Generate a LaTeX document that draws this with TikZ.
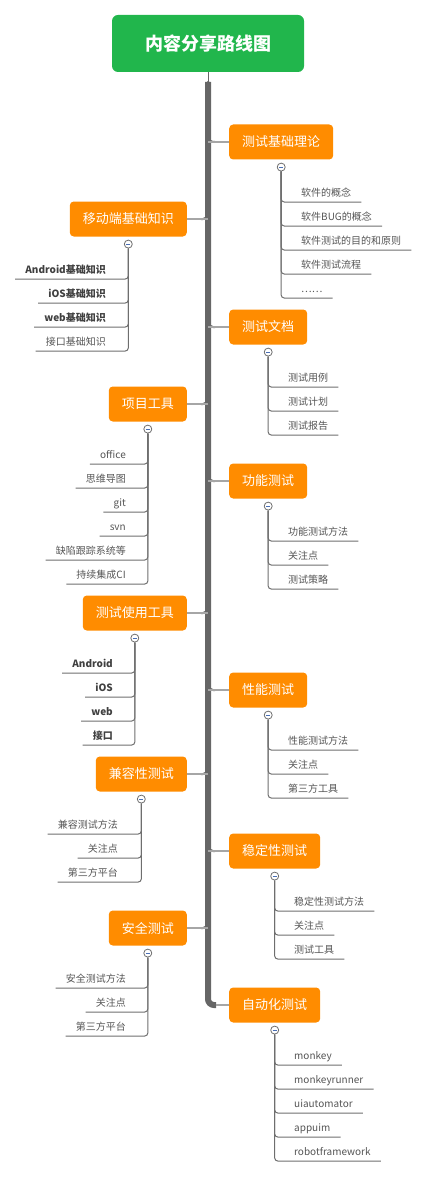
\documentclass[tikz,border=0pt]{standalone}
\usepackage{fontspec}
\setmainfont{Noto Sans CJK SC}
\usepackage{tikz}
\usetikzlibrary{positioning}
\definecolor{rootgreen}{HTML}{21B64C}
\definecolor{topicorange}{HTML}{FF8C00}
\definecolor{trunkgray}{HTML}{666666}
\definecolor{branchgray}{HTML}{A6A6A6}
\definecolor{linegray}{HTML}{6E6E6E}
\definecolor{itemtext}{HTML}{555555}
\definecolor{boldtext}{HTML}{404040}
\definecolor{foldblue}{HTML}{4A6FB5}

\begin{document}
\begin{tikzpicture}[
  x=1pt,y=-1pt,
  root/.style={fill=rootgreen,text=white,rounded corners=6pt,minimum width=192pt,minimum height=57pt,font=\fontsize{18}{20}\selectfont\bfseries},
  topic/.style={fill=topicorange,text=white,rounded corners=4pt,minimum height=35pt,inner xsep=13pt,font=\fontsize{13}{15}\selectfont},
  fold/.style={circle,draw=linegray,fill=white,line width=0.8pt,minimum size=8pt,inner sep=0pt,
    path picture={\draw[foldblue,line width=0.8pt] ([xshift=-2pt]path picture bounding box.center) -- ([xshift=2pt]path picture bounding box.center);}},
  ritem/.style={anchor=south west,inner xsep=10pt,inner ysep=3pt,text height=8pt,text depth=2pt,text=itemtext,font=\fontsize{10}{12}\selectfont},
  litem/.style={ritem,anchor=south east},
  bitem/.style={text=boldtext,font=\fontsize{10}{12}\selectfont\bfseries},
  trunk/.style={draw=trunkgray,line width=6pt},
  fillet/.style={draw=trunkgray,line width=2pt,rounded corners=5pt},
  branch/.style={draw=branchgray,line width=1.5pt},
  stem/.style={draw=trunkgray,line width=1pt},
  sub/.style={draw=linegray,line width=1pt,rounded corners=3pt}
]
\useasboundingbox (0,0) rectangle (429,1177);
\node[root] (root) at (208,43.5) {内容分享路线图};
\coordinate (top) at (208,82);

% right side topics
\node[topic,anchor=west] (t1) at (229,142) {测试基础理论};
\node[topic,anchor=west] (t2) at (229,327) {测试文档};
\node[topic,anchor=west] (t3) at (229,481) {功能测试};
\node[topic,anchor=west] (t4) at (229,690) {性能测试};
\node[topic,anchor=west] (t5) at (229,851) {稳定性测试};
\node[topic,anchor=west] (t6) at (229,1005) {自动化测试};
% left side topics
\node[topic,anchor=east] (l1) at (187,219) {移动端基础知识};
\node[topic,anchor=east] (l2) at (187,404) {项目工具};
\node[topic,anchor=east] (l3) at (187,613) {测试使用工具};
\node[topic,anchor=east] (l4) at (187,774) {兼容性测试};
\node[topic,anchor=east] (l5) at (187,928) {安全测试};

% trunk
\draw[stem] (root) -- (top);
\draw[trunk,rounded corners=6pt] (top) |- ([xshift=-13pt]t6.west);
\draw[fillet] (top) |- ([xshift=-14pt]t1.west); \draw[fillet] (top) |- ([xshift=-14pt]t2.west);
\draw[fillet] (top) |- ([xshift=-14pt]t3.west); \draw[fillet] (top) |- ([xshift=-14pt]t4.west);
\draw[fillet] (top) |- ([xshift=-14pt]t5.west);
\draw[fillet] (top) |- ([xshift=14pt]l1.east); \draw[fillet] (top) |- ([xshift=14pt]l2.east);
\draw[fillet] (top) |- ([xshift=14pt]l3.east); \draw[fillet] (top) |- ([xshift=14pt]l4.east);
\draw[fillet] (top) |- ([xshift=14pt]l5.east);
\draw[branch] (top |- t1.west) -- (t1.west); \draw[branch] (top |- t2.west) -- (t2.west);
\draw[branch] (top |- t3.west) -- (t3.west); \draw[branch] (top |- t4.west) -- (t4.west);
\draw[branch] (top |- t5.west) -- (t5.west); \draw[branch] ([xshift=-13pt]t6.west) -- (t6.west);
\draw[branch] (top |- l1.east) -- (l1.east); \draw[branch] (top |- l2.east) -- (l2.east);
\draw[branch] (top |- l3.east) -- (l3.east); \draw[branch] (top |- l4.east) -- (l4.east);
\draw[branch] (top |- l5.east) -- (l5.east);

% fold markers
\node[fold,below=3pt of t1] (f1) {};
\node[fold,below=3pt of t2] (f2) {};
\node[fold,below=3pt of t3] (f3) {};
\node[fold,below=3pt of t4] (f4) {};
\node[fold,below=3pt of t5] (f5) {};
\node[fold,below=3pt of t6] (f6) {};
\node[fold,below=3pt of l1] (g1) {};
\node[fold,below=3pt of l2] (g2) {};
\node[fold,below=3pt of l3] (g3) {};
\node[fold,below=3pt of l4] (g4) {};
\node[fold,below=3pt of l5] (g5) {};

% 测试基础理论
\node[ritem] (a11) at (291,202) {软件的概念};
\node[ritem] (a12) at (291,226) {软件BUG的概念};
\node[ritem] (a13) at (291,250) {软件测试的目的和原则};
\node[ritem] (a14) at (291,274) {软件测试流程};
\node[ritem] (a15) at (291,298) {……};
\draw[sub] (f1.south) |- (a11.south east); \draw[sub] (f1.south) |- (a12.south east);
\draw[sub] (f1.south) |- (a13.south east); \draw[sub] (f1.south) |- (a14.south east);
\draw[sub] (f1.south) |- (a15.south east);
% 测试文档
\node[ritem] (a21) at (278,387) {测试用例};
\node[ritem] (a22) at (278,411) {测试计划};
\node[ritem] (a23) at (278,435) {测试报告};
\draw[sub] (f2.south) |- (a21.south east); \draw[sub] (f2.south) |- (a22.south east);
\draw[sub] (f2.south) |- (a23.south east);
% 功能测试
\node[ritem] (a31) at (278,541) {功能测试方法};
\node[ritem] (a32) at (278,565) {关注点};
\node[ritem] (a33) at (278,589) {测试策略};
\draw[sub] (f3.south) |- (a31.south east); \draw[sub] (f3.south) |- (a32.south east);
\draw[sub] (f3.south) |- (a33.south east);
% 性能测试
\node[ritem] (a41) at (278,750) {性能测试方法};
\node[ritem] (a42) at (278,774) {关注点};
\node[ritem] (a43) at (278,798) {第三方工具};
\draw[sub] (f4.south) |- (a41.south east); \draw[sub] (f4.south) |- (a42.south east);
\draw[sub] (f4.south) |- (a43.south east);
% 稳定性测试
\node[ritem] (a51) at (284,911) {稳定性测试方法};
\node[ritem] (a52) at (284,935) {关注点};
\node[ritem] (a53) at (284,959) {测试工具};
\draw[sub] (f5.south) |- (a51.south east); \draw[sub] (f5.south) |- (a52.south east);
\draw[sub] (f5.south) |- (a53.south east);
% 自动化测试
\node[ritem] (a61) at (284,1065) {monkey};
\node[ritem] (a62) at (284,1089) {monkeyrunner};
\node[ritem] (a63) at (284,1113) {uiautomator};
\node[ritem] (a64) at (284,1137) {appuim};
\node[ritem] (a65) at (284,1161) {robotframework};
\draw[sub] (f6.south) |- (a61.south east); \draw[sub] (f6.south) |- (a62.south east);
\draw[sub] (f6.south) |- (a63.south east); \draw[sub] (f6.south) |- (a64.south east);
\draw[sub] (f6.south) |- (a65.south east);

% 移动端基础知识
\node[litem,bitem] (b11) at (116,279) {Android基础知识};
\node[litem,bitem] (b12) at (116,303) {iOS基础知识};
\node[litem,bitem] (b13) at (116,327) {web基础知识};
\node[litem] (b14) at (116,351) {接口基础知识};
\draw[sub] (g1.south) |- (b11.south west); \draw[sub] (g1.south) |- (b12.south west);
\draw[sub] (g1.south) |- (b13.south west); \draw[sub] (g1.south) |- (b14.south west);
% 项目工具
\node[litem] (b21) at (136,464) {office};
\node[litem] (b22) at (136,488) {思维导图};
\node[litem] (b23) at (136,512) {git};
\node[litem] (b24) at (136,536) {svn};
\node[litem] (b25) at (136,560) {缺陷跟踪系统等};
\node[litem] (b26) at (136,584) {持续集成CI};
\draw[sub] (g2.south) |- (b21.south west); \draw[sub] (g2.south) |- (b22.south west);
\draw[sub] (g2.south) |- (b23.south west); \draw[sub] (g2.south) |- (b24.south west);
\draw[sub] (g2.south) |- (b25.south west); \draw[sub] (g2.south) |- (b26.south west);
% 测试使用工具
\node[litem,bitem] (b31) at (123,673) {Android};
\node[litem,bitem] (b32) at (123,697) {iOS};
\node[litem,bitem] (b33) at (123,721) {web};
\node[litem,bitem] (b34) at (123,745) {接口};
\draw[sub] (g3.south) |- (b31.south west); \draw[sub] (g3.south) |- (b32.south west);
\draw[sub] (g3.south) |- (b33.south west); \draw[sub] (g3.south) |- (b34.south west);
% 兼容性测试
\node[litem] (b41) at (128,834) {兼容测试方法};
\node[litem] (b42) at (128,858) {关注点};
\node[litem] (b43) at (128,882) {第三方平台};
\draw[sub] (g4.south) |- (b41.south west); \draw[sub] (g4.south) |- (b42.south west);
\draw[sub] (g4.south) |- (b43.south west);
% 安全测试
\node[litem] (b51) at (136,988) {安全测试方法};
\node[litem] (b52) at (136,1012) {关注点};
\node[litem] (b53) at (136,1036) {第三方平台};
\draw[sub] (g5.south) |- (b51.south west); \draw[sub] (g5.south) |- (b52.south west);
\draw[sub] (g5.south) |- (b53.south west);
\end{tikzpicture}
\end{document}
